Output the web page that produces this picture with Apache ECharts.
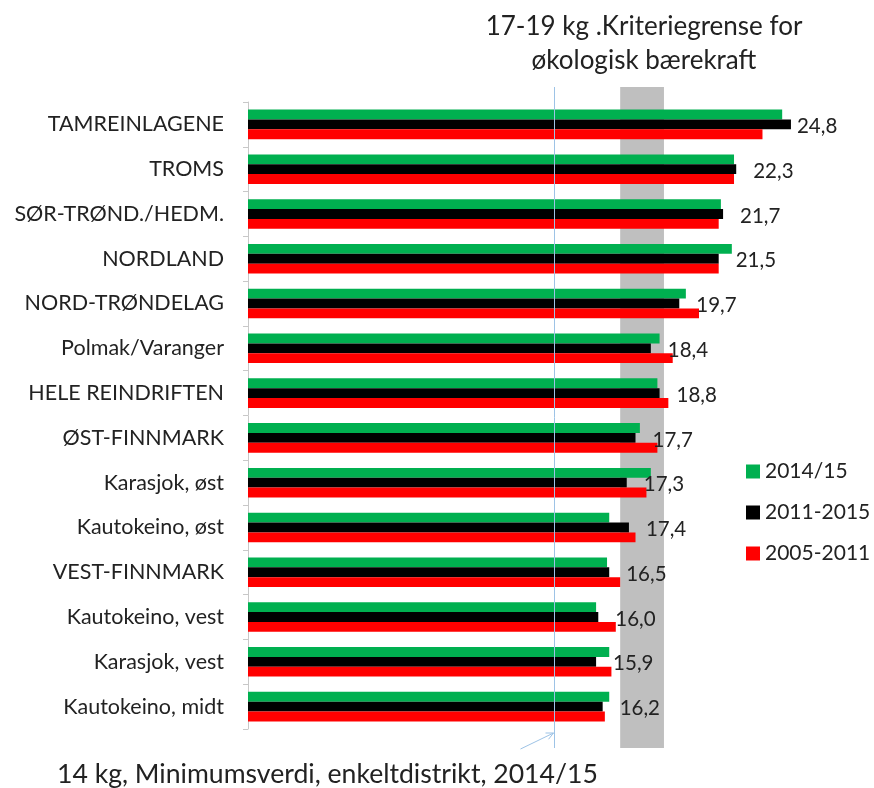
<!DOCTYPE html>
<html>
<head>
<meta charset="utf-8">
<script src="https://cdn.jsdelivr.net/npm/echarts@6/dist/echarts.min.js"></script>
<style>
  html, body { margin: 0; padding: 0; background: #fff; }
  #chart { width: 874px; height: 788px; }
</style>
</head>
<body>
<div id="chart"></div>
<script>
// Slaktevekt per dyr (kg), per område
const categories = [
  'TAMREINLAGENE', 'TROMS', 'SØR-TRØND./HEDM.', 'NORDLAND', 'NORD-TRØNDELAG',
  'Polmak/Varanger', 'HELE REINDRIFTEN', 'ØST-FINNMARK', 'Karasjok, øst',
  'Kautokeino, øst', 'VEST-FINNMARK', 'Kautokeino, vest', 'Karasjok, vest',
  'Kautokeino, midt'
];
const seriesNames = ['2014/15', '2011-2015', '2005-2011'];
const values201415 = [24.4, 22.2, 21.6, 22.1, 20.0, 18.8, 18.7, 17.9, 18.4, 16.5, 16.4, 15.9, 16.5, 16.5];
const values20112015 = [24.8, 22.3, 21.7, 21.5, 19.7, 18.4, 18.8, 17.7, 17.3, 17.4, 16.5, 16.0, 15.9, 16.2];
const values20052011 = [23.5, 22.2, 21.5, 21.5, 20.6, 19.4, 19.2, 18.7, 18.2, 17.7, 17.0, 16.8, 16.6, 16.3];

// Referanselinjer
const criteriaBand = [17, 19];   // kriteriegrense for økologisk bærekraft
const minimumValue = 14;         // minimumsverdi, enkeltdistrikt 2014/15
const xMax = 28;

const FONT = 'Lato, "Open Sans", sans-serif';
const colors = ['#00B050', '#000000', '#FF0000'];

const chart = echarts.init(document.getElementById('chart'), null, { renderer: 'canvas' });

const fmt = v => v.toFixed(1).replace('.', ',');

// The topmost label sits tight against its bar
const labelledData = values20112015.map((v, i) =>
  i === 0 ? { value: v, label: { distance: 6 } } : v
);

const option = {
  backgroundColor: '#ffffff',
  animation: false,
  textStyle: { fontFamily: FONT },
  legend: {
    orient: 'vertical',
    left: 741,
    top: 456,
    itemWidth: 14,
    itemHeight: 14,
    itemGap: 20,
    icon: 'rect',
    data: seriesNames,
    textStyle: { fontSize: 21, color: '#222', fontFamily: FONT }
  },
  grid: [
    { left: 248, right: 13, top: 102, bottom: 59 },
    { left: 248, right: 13, top: 87, bottom: 40 }
  ],
  xAxis: [
    { type: 'value', gridIndex: 0, min: 0, max: xMax, show: false },
    { type: 'value', gridIndex: 1, min: 0, max: xMax, show: false }
  ],
  yAxis: [
    {
      type: 'category',
      gridIndex: 0,
      inverse: true,
      data: categories,
      axisLine: { show: true, lineStyle: { color: '#C8C8C8', width: 1 } },
      axisTick: { show: true, length: 5, lineStyle: { color: '#C8C8C8' } },
      axisLabel: { margin: 24, fontSize: 21.5, color: '#222', fontFamily: FONT }
    },
    { type: 'value', gridIndex: 1, min: 0, max: 1, show: false }
  ],
  series: [
    {
      name: 'band',
      type: 'line',
      xAxisIndex: 1,
      yAxisIndex: 1,
      data: [],
      z: 1,
      silent: true,
      markArea: {
        silent: true,
        itemStyle: { color: '#BFBFBF' },
        data: [[{ xAxis: criteriaBand[0] }, { xAxis: criteriaBand[1] }]]
      }
    },
    {
      name: seriesNames[0],
      type: 'bar',
      z: 2,
      barGap: '0%',
      barCategoryGap: '34%',
      itemStyle: { color: colors[0] },
      data: values201415
    },
    {
      name: seriesNames[1],
      type: 'bar',
      z: 2,
      itemStyle: { color: colors[1] },
      label: {
        show: true,
        position: 'right',
        distance: 17,
        offset: [0, 2],
        fontSize: 20.5,
        color: '#222',
        fontFamily: FONT,
        formatter: p => fmt(p.value)
      },
      data: labelledData
    },
    {
      name: seriesNames[2],
      type: 'bar',
      z: 2,
      itemStyle: { color: colors[2] },
      data: values20052011
    },
    {
      name: 'minimum',
      type: 'line',
      xAxisIndex: 1,
      yAxisIndex: 1,
      data: [],
      z: 5,
      silent: true,
      markLine: {
        silent: true,
        symbol: 'none',
        label: { show: false },
        lineStyle: { color: '#9DC3E6', width: 1, type: 'solid' },
        data: [{ xAxis: minimumValue }]
      }
    }
  ]
};

chart.setOption(option);

// Annotation texts and the arrow pointing at the minimum line
const lineX = chart.convertToPixel({ xAxisIndex: 1 }, minimumValue);
const lineBottom = chart.convertToPixel({ yAxisIndex: 1 }, 0);
const tipX = lineX - 1, tipY = lineBottom - 15;
const tailX = tipX - 33, tailY = tipY + 16;
const ang = Math.atan2(tipY - tailY, tipX - tailX);
const head = 8;
const h1 = [tipX - head * Math.cos(ang - 0.45), tipY - head * Math.sin(ang - 0.45)];
const h2 = [tipX - head * Math.cos(ang + 0.45), tipY - head * Math.sin(ang + 0.45)];

chart.setOption({
  graphic: [
    {
      type: 'text',
      x: 644,
      y: 10,
      style: {
        text: '17-19 kg .Kriteriegrense for\nøkologisk bærekraft',
        textAlign: 'center',
        fill: '#222',
        font: '26px ' + FONT,
        lineHeight: 34
      }
    },
    {
      type: 'text',
      x: 57,
      y: 761,
      style: {
        text: '14 kg, Minimumsverdi, enkeltdistrikt, 2014/15',
        fill: '#222',
        font: '26.6px ' + FONT
      }
    },
    {
      type: 'polyline',
      shape: { points: [[tailX, tailY], [tipX, tipY]] },
      style: { stroke: '#9DC3E6', lineWidth: 1, fill: null }
    },
    {
      type: 'polyline',
      shape: { points: [h1, [tipX, tipY], h2] },
      style: { stroke: '#9DC3E6', lineWidth: 1, fill: null }
    }
  ]
});
</script>
</body>
</html>
